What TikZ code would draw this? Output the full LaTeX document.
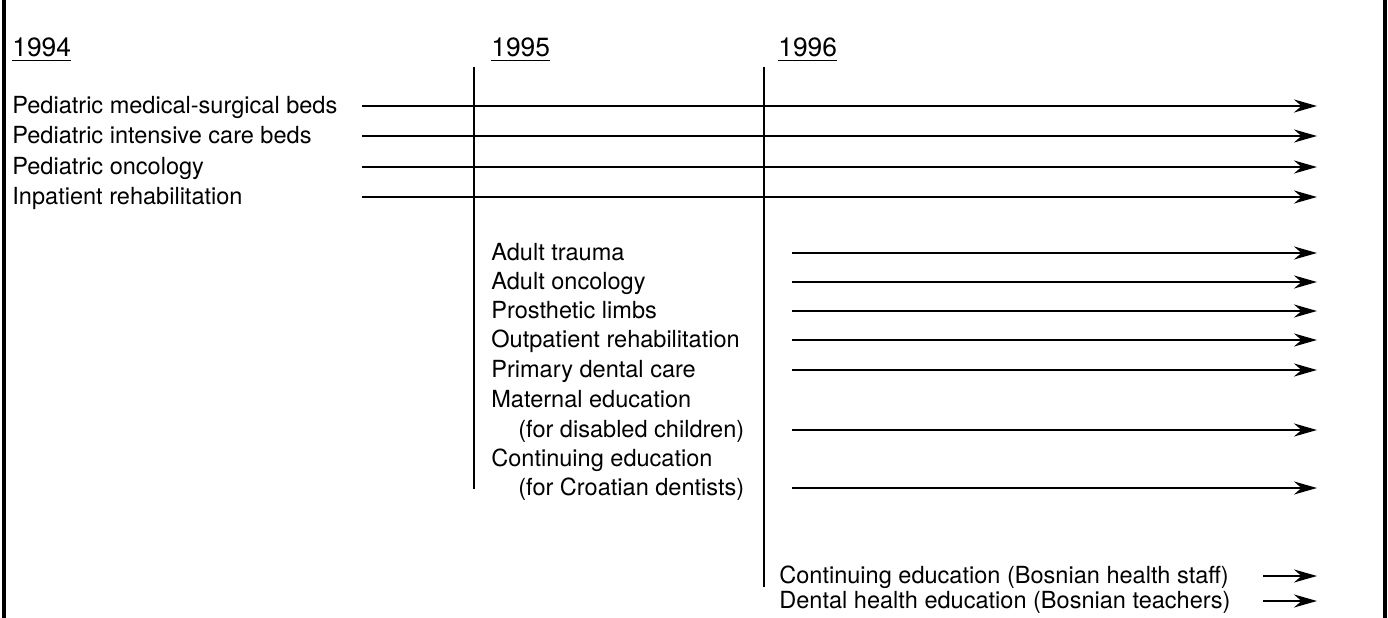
\documentclass[tikz,border=0pt]{standalone}
\usepackage{fontspec}
\setmainfont{TeX Gyre Heros}
\usetikzlibrary{arrows.meta}
\tikzset{
  lbl/.style={anchor=west, inner sep=0pt, text height=10pt, text depth=2pt, font=\fontsize{13.4}{15}\selectfont},
  yr/.style={anchor=base west, inner sep=0pt, font=\fontsize{15}{17}\selectfont},
  arr/.style={line width=1.4pt, -{Stealth[length=4.6mm, width=2.6mm, inset=1.5mm]}},
  bar/.style={line width=1.3pt}
}
\begin{document}
\begin{tikzpicture}[x=0.02cm, y=-0.02cm]
\useasboundingbox (0,0) rectangle (1388,618);
\draw[line width=2pt] (4,0) -- (4,618);
\draw[line width=2pt] (1385,0) -- (1385,618);

\node[yr] (y94) at (12,57) {\underline{1994}};
\node[yr] (y95) at (491,57) {\underline{1995}};
\node[yr] (y96) at (778,57) {\underline{1996}};
\draw[bar] (474,67) -- (474,489);
\draw[bar] (764,67) -- (764,587);

\coordinate (s94) at (362,0);
\coordinate (s95) at (792,0);
\coordinate (s96) at (1263,0);
\coordinate (tip) at (1317,0);

\foreach \n/\y/\t in {a/106/Pediatric medical-surgical beds,
                      b/136/Pediatric intensive care beds,
                      c/167/Pediatric oncology,
                      d/197/Inpatient rehabilitation} {
	\node[lbl] (p\n) at (12,\y) {\t};
	\draw[arr] (p\n.west -| s94) -- (p\n.west -| tip);
}

\foreach \n/\y/\t in {a/253/Adult trauma,
                      b/282/Adult oncology,
                      c/311/Prosthetic limbs,
                      d/340/Outpatient rehabilitation,
                      e/370/Primary dental care} {
	\node[lbl] (q\n) at (491,\y) {\t};
	\draw[arr] (q\n.west -| s95) -- (q\n.west -| tip);
}
\node[lbl] (qf) at (491,400) {Maternal education};
\node[lbl] (qg) at (518,430) {(for disabled children)};
\node[lbl] (qh) at (491,459) {Continuing education};
\node[lbl] (qi) at (518,488) {(for Croatian dentists)};
\draw[arr] (qg.west -| s95) -- (qg.west -| tip);
\draw[arr] (qi.west -| s95) -- (qi.west -| tip);

\node[lbl] (ra) at (779,576) {Continuing education (Bosnian health staff)};
\node[lbl] (rb) at (779,601) {Dental health education (Bosnian teachers)};
\draw[arr] (ra.west -| s96) -- (ra.west -| tip);
\draw[arr] (rb.west -| s96) -- (rb.west -| tip);
\end{tikzpicture}
\end{document}
